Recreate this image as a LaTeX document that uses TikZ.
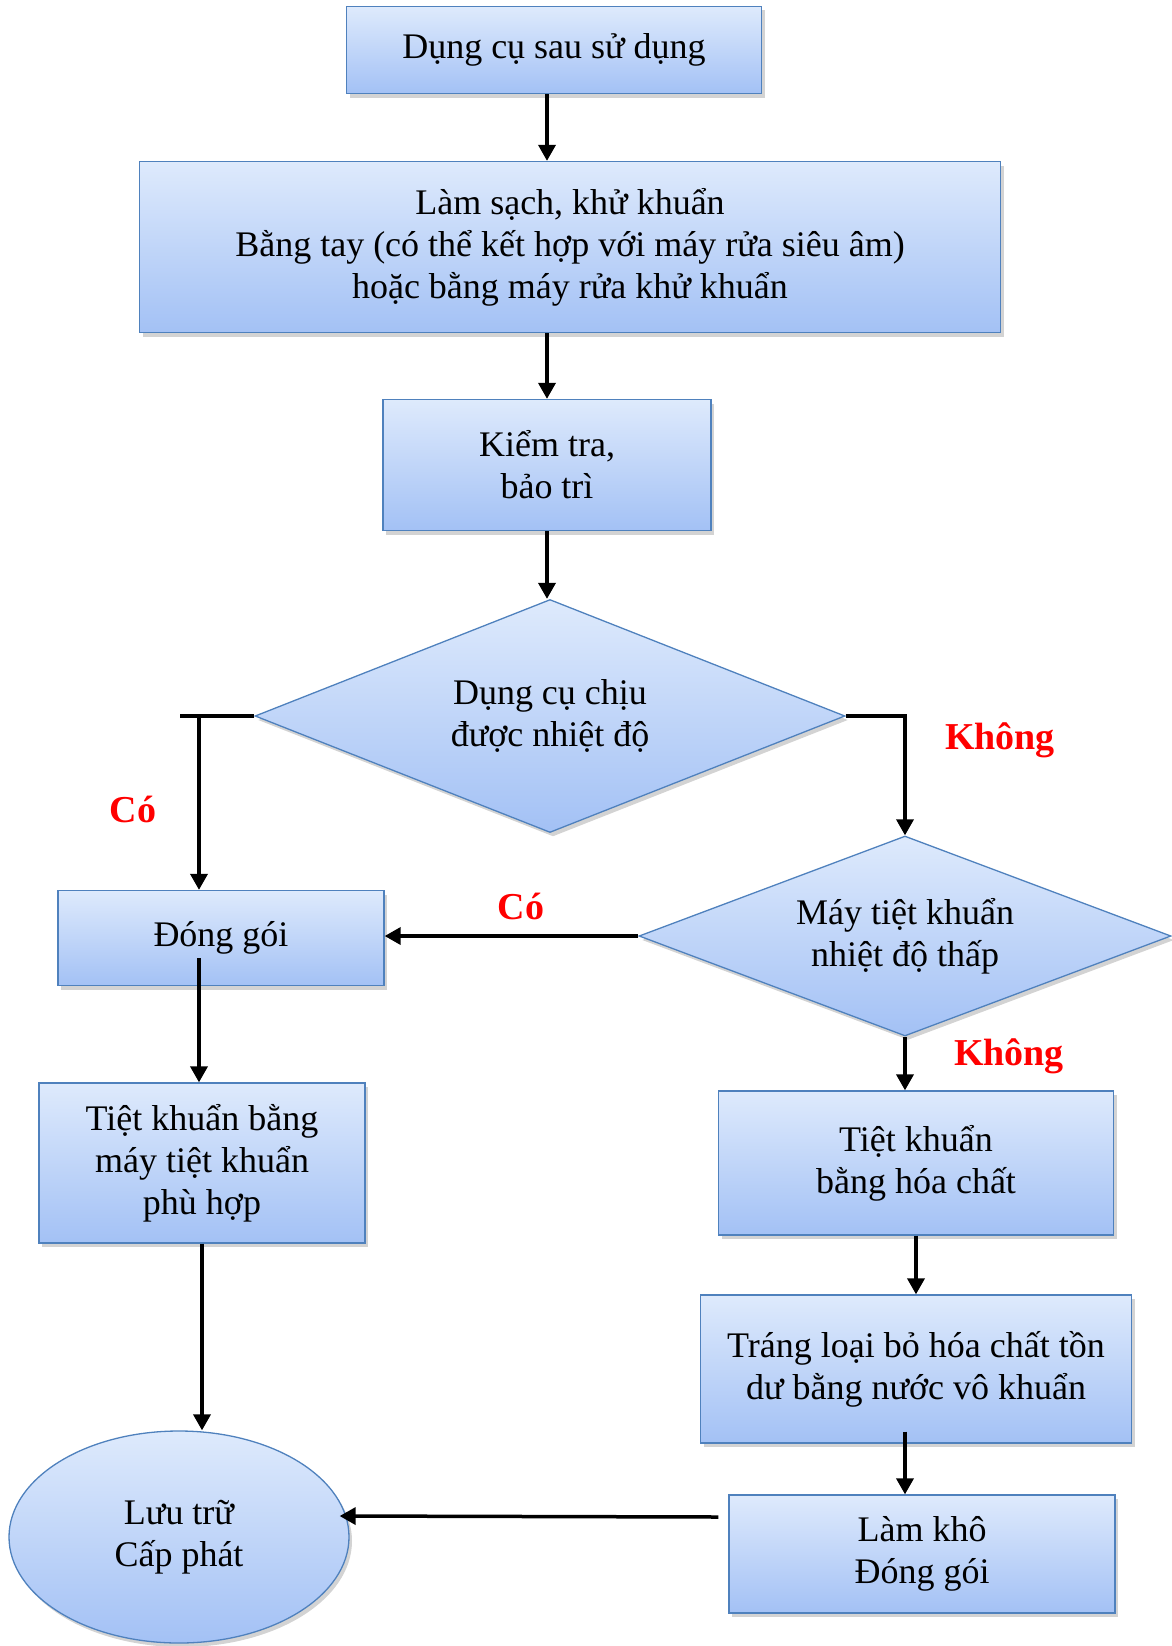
\documentclass[tikz,border=0pt]{standalone}
\usepackage{fontspec}
\setmainfont{Liberation Serif}
\usetikzlibrary{shapes.geometric,arrows.meta,shadows}
\definecolor{boxtop}{RGB}{222,234,252}
\definecolor{boxbot}{RGB}{163,193,245}
\definecolor{boxline}{RGB}{79,129,189}

\begin{document}
\begin{tikzpicture}[x=1pt,y=-1pt,
    every node/.style={font=\fontsize{36}{42}\selectfont},
    box/.style={draw=boxline, line width=1.3pt, top color=boxtop, bottom color=boxbot,
        drop shadow={opacity=0.35, shadow xshift=3pt, shadow yshift=-4pt},
        align=center, inner sep=0pt},
    decision/.style={box, diamond, aspect=2.5},
    arr/.style={line width=3.5pt, -{Triangle[length=16pt,width=17pt]}},
    lbl/.style={text=red, font=\fontsize{38}{40}\selectfont\bfseries}]
        \useasboundingbox (0,0) rectangle (1171,1646);

        % Top of the flow
        \node[box, minimum width=415, minimum height=87] (used) at (554,50) {Dụng cụ sau sử dụng};
        \node[box, minimum width=861, minimum height=171] (clean) at (570,247) {Làm sạch, khử khuẩn\\Bằng tay (có thể kết hợp với máy rửa siêu âm)\\hoặc bằng máy rửa khử khuẩn};
        \node[box, minimum width=328, minimum height=131] (check) at (547,465) {Kiểm tra,\\bảo trì};
        \draw[arr] (used.south -| check.north) -- (clean.north -| check.north);
        \draw[arr] (clean.south -| check.north) -- (check.north);

        % First decision
        \node[decision, minimum width=590, minimum height=233] (heat) at (550,716) {Dụng cụ chịu\\được nhiệt độ};
        \draw[arr] (check.south) -- (check.south |- heat.north);

        % Yes branch
        \coordinate (tleft) at (180,716);
        \coordinate (tdown) at (199,716);
        \node[box, minimum width=326, minimum height=95] (pack) at (221,938) {Đóng gói};
        \draw[line width=3.5pt] (heat.west) -- (tleft);
        \draw[arr] (tdown) -- (pack.north -| tdown);
        \node[lbl] (yes1) at (133,809) {Có};

        \node[box, minimum width=326, minimum height=160] (steam) at (202,1163) {Tiệt khuẩn bằng\\máy tiệt khuẩn\\phù hợp};
        \draw[arr] ([yshift=28pt]pack.south -| tdown) -- (steam.north -| tdown);

        \node[box, ellipse, minimum width=340, minimum height=212] (store) at (179,1537) {Lưu trữ\\Cấp phát};
        \draw[arr] (steam.south) -- (steam.south |- store.north);

        % No branch
        \node[decision, minimum width=532, minimum height=200] (low) at (905,936) {Máy tiệt khuẩn\\nhiệt độ thấp};
        \draw[arr] (heat.east) -- (heat.east -| low.north) -- (low.north);
        \node[lbl] (no1) at (1000,740) {Không};

        \draw[arr] (low.west) -- (low.west -| pack.east);
        \node[lbl] (yes2) at (521,906) {Có};

        \node[box, minimum width=395, minimum height=144] (chem) at (916,1163) {Tiệt khuẩn\\bằng hóa chất};
        \draw[arr] (low.south) -- (low.south |- chem.north);
        \node[lbl] (no2) at (1009,1056) {Không};

        \node[box, minimum width=431, minimum height=148] (rinse) at (916,1369) {Tráng loại bỏ hóa chất tồn\\dư bằng nước vô khuẩn};
        \draw[arr] (chem.south) -- (chem.south |- rinse.north);

        \node[box, minimum width=386, minimum height=118] (dry) at (922,1554) {Làm khô\\Đóng gói};
        \draw[arr] ([yshift=12pt]rinse.south -| low.south) -- (dry.north -| low.south);
        \draw[arr] ([xshift=-10pt,yshift=37pt]dry.west) -- ([xshift=-10pt,yshift=21pt]store.east);
    \end{tikzpicture}
\end{document}
